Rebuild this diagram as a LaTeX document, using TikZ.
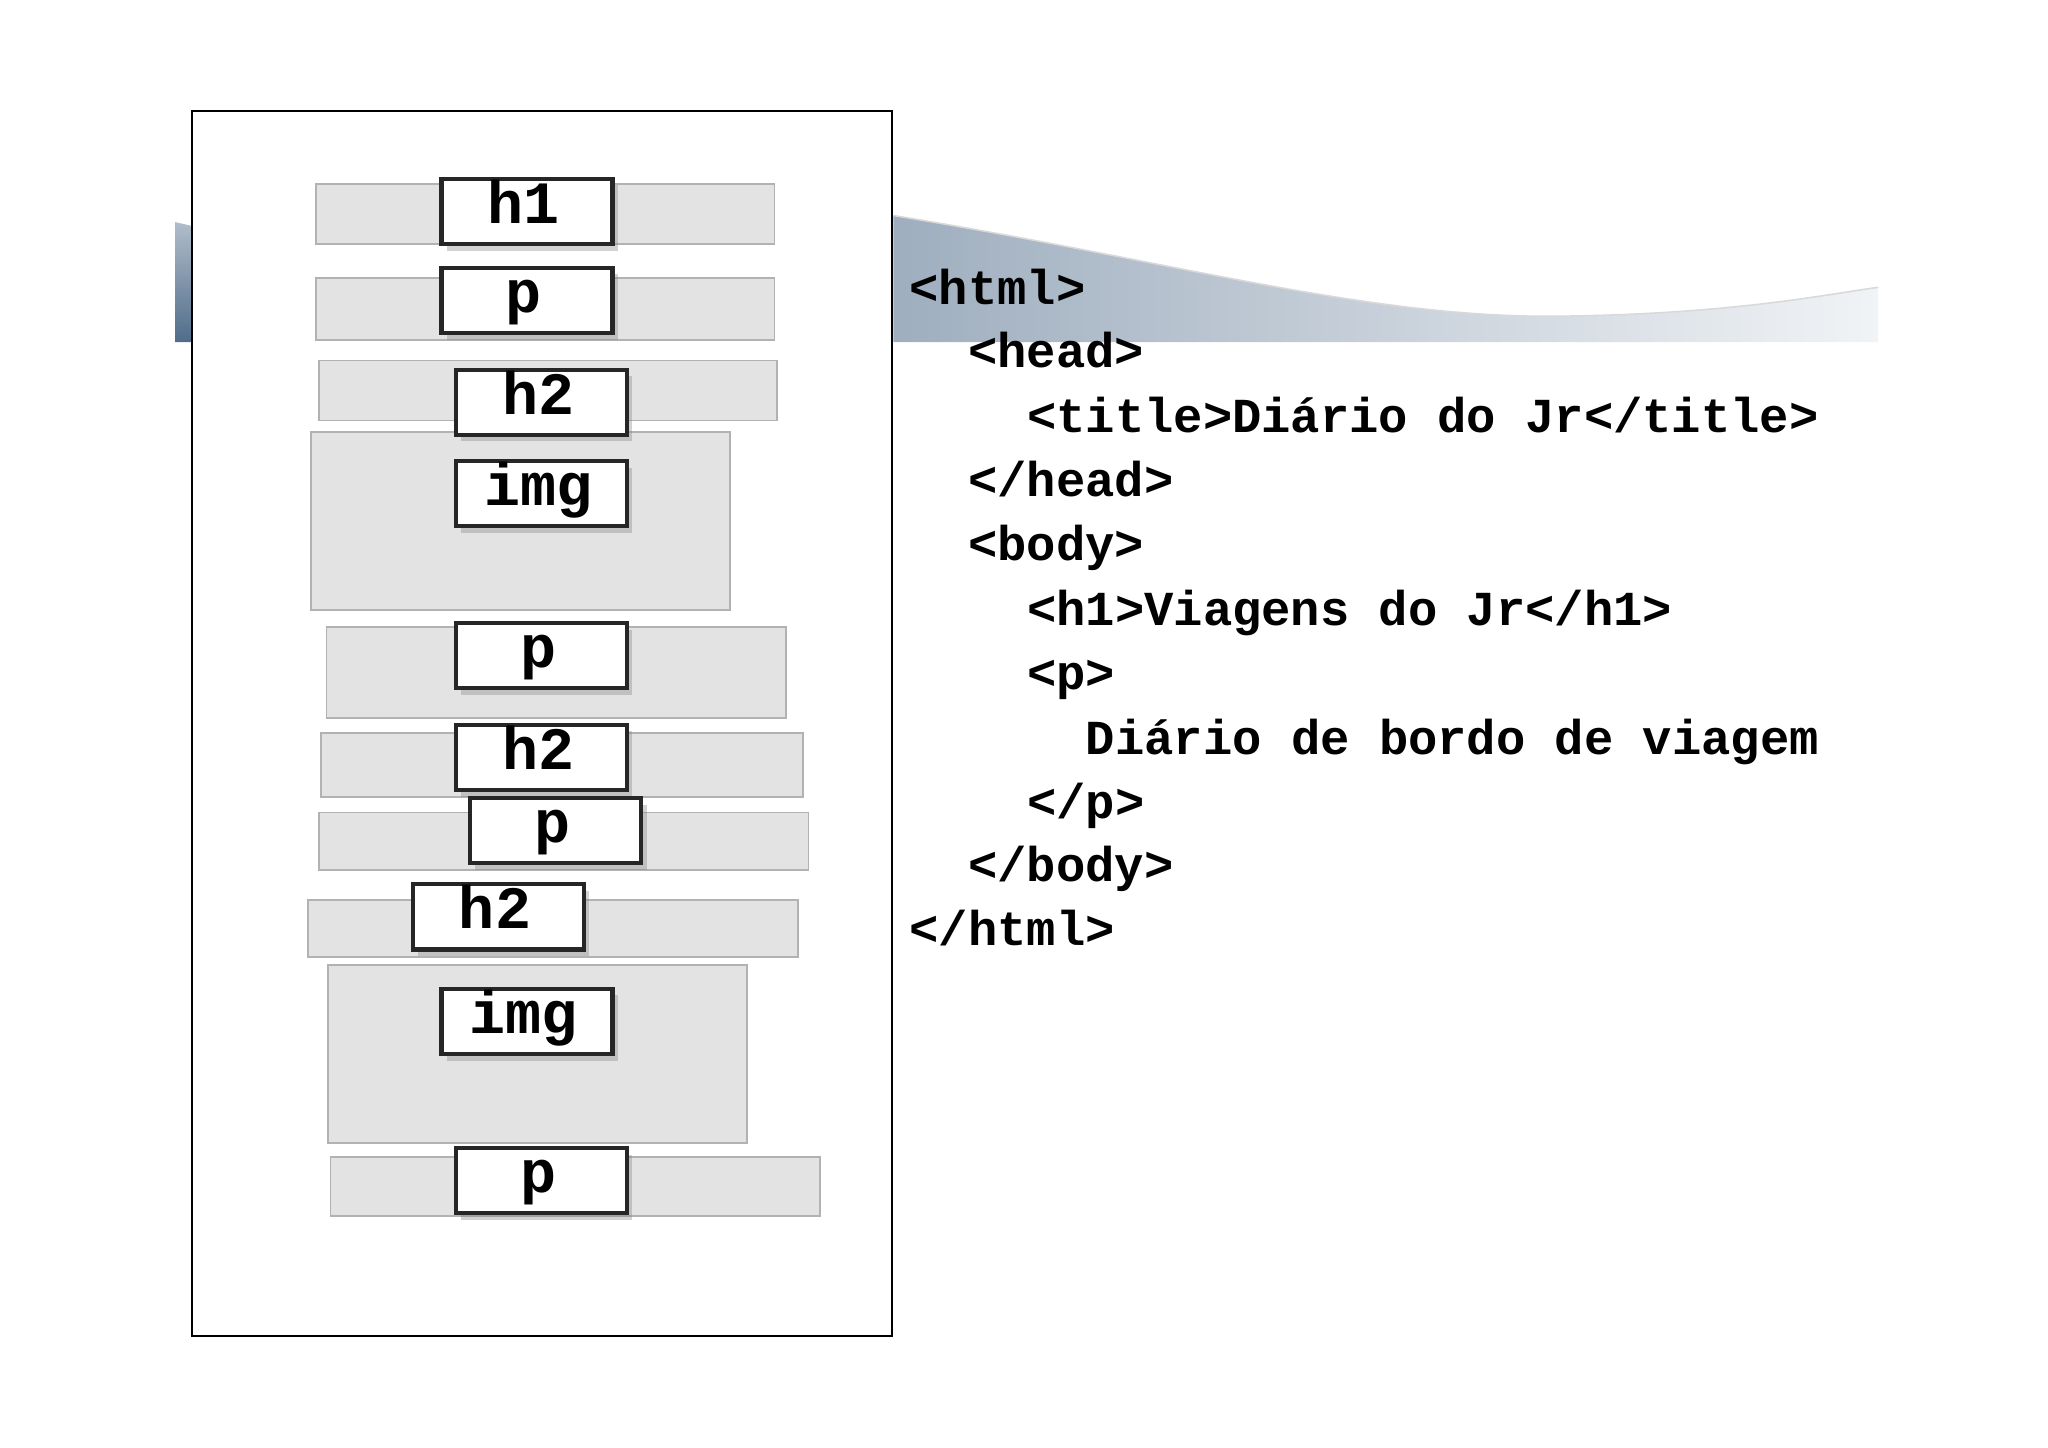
\documentclass[tikz,border=0pt]{standalone}
\usepackage{fontspec}
\setmonofont{Liberation Mono}
\usetikzlibrary{shadows}
\definecolor{slate}{RGB}{80,108,138}
\begin{document}
\begin{tikzpicture}[x=0.5pt,y=-0.5pt,
  greybox/.style={draw=black!30,fill=black!11,line width=0.7pt},
  tagbox/.style={draw=black!85,fill=white,line width=1.6pt,drop shadow={shadow xshift=2pt,shadow yshift=-2.5pt,opacity=0.35}},
  taglbl/.style={font=\ttfamily\bfseries\fontsize{23}{23}\selectfont,inner sep=0pt,anchor=base},
  code/.style={font=\ttfamily\bfseries\fontsize{18.7}{20}\selectfont,anchor=base west,inner sep=0pt}]
\useasboundingbox (0,0) rectangle (1568,1108);
% wave band
\shade[top color=slate!45!white,bottom color=slate] (134,170) -- (147,173) -- (147,262) -- (134,262) -- cycle;
\shade[left color=slate!55!white, right color=white!92!slate] (684,165) .. controls (900,200) and (1050,245) .. (1200,242) .. controls (1330,240) and (1400,225) .. (1438,220) -- (1438,262) -- (684,262) -- cycle;
\draw[white!70!gray,line width=0.6pt] (684,165) .. controls (900,200) and (1050,245) .. (1200,242) .. controls (1330,240) and (1400,225) .. (1438,220);
% frame
\draw[fill=white,line width=0.8pt] (147,85) rectangle (683,1023);
% grey boxes
\foreach \a/\b/\c/\d in {242/141/593/187, 242/213/593/260, 244/276/595/322, 238/331/559/467, 250/480/602/550, 246/561/615/610, 244/622/619/666, 236/689/611/733, 251/739/572/875, 253/886/628/931}
  \draw[greybox] (\a,\b) rectangle (\c,\d);
% tag boxes
\foreach \n/\a/\b/\t in {t1/338/137/h1, t2/338/205/p, t3/349/283/h2, t4/349/353/img, t5/349/477/p, t6/349/555/h2, t7/360/611/p, t8/316/677/h2, t9/338/757/img, t10/349/879/p}{
  \draw[tagbox] (\a,\b) rectangle ++(131,50);
  \node[taglbl] (\n) at (\a+63,\b+34) {\t};
}
% code
\node[code] (c1) at (696,233) {<html>};
\node[code] (c2) at (741,281) {<head>};
\node[code] (c3) at (786,331) {<title>Diário do Jr</title>};
\node[code] (c4) at (741,380) {</head>};
\node[code] (c5) at (741,429) {<body>};
\node[code] (c6) at (786,479) {<h1>Viagens do Jr</h1>};
\node[code] (c7) at (786,528) {<p>};
\node[code] (c8) at (831,578) {Diário de bordo de viagem};
\node[code] (c9) at (786,627) {</p>};
\node[code] (c10) at (741,675) {</body>};
\node[code] (c11) at (696,724) {</html>};
\end{tikzpicture}
\end{document}
